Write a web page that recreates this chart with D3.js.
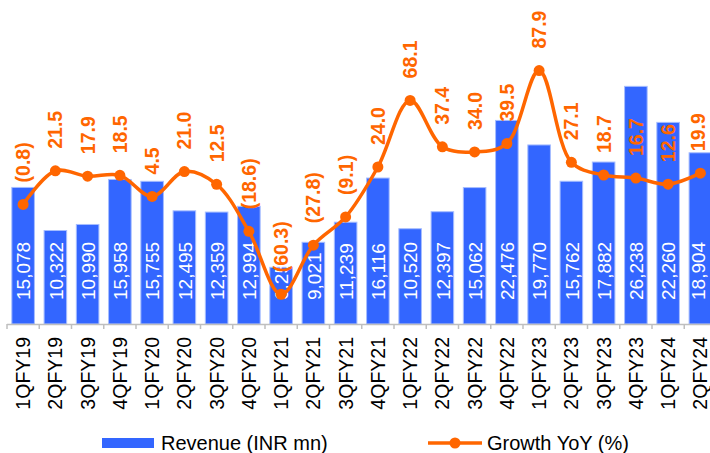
<!DOCTYPE html>
<html>
<head>
<meta charset="utf-8">
<script src="https://cdn.jsdelivr.net/npm/d3@7"></script>
<style>
    body { margin: 0; background: #fff; }
    svg { display: block; font-family: "Liberation Sans", Arial, sans-serif; }
</style>
</head>
<body>
<div id="chart"></div>
<script>
var quarters = ['1QFY19', '2QFY19', '3QFY19', '4QFY19', '1QFY20', '2QFY20', '3QFY20', '4QFY20',
    '1QFY21', '2QFY21', '3QFY21', '4QFY21', '1QFY22', '2QFY22', '3QFY22', '4QFY22',
    '1QFY23', '2QFY23', '3QFY23', '4QFY23', '1QFY24', '2QFY24'];
var revenue = [15078, 10322, 10990, 15958, 15755, 12495, 12359, 12994,
    6258, 9021, 11239, 16116, 10520, 12397, 15062, 22476,
    19770, 15762, 17882, 26238, 22260, 18904];
var growth = [-0.8, 21.5, 17.9, 18.5, 4.5, 21.0, 12.5, -18.6,
    -60.3, -27.8, -9.1, 24.0, 68.1, 37.4, 34.0, 39.5,
    87.9, 27.1, 18.7, 16.7, 12.6, 19.9];
var legendLabels = ['Revenue (INR mn)', 'Growth YoY (%)'];

var opts = {
    width: 710,
    height: 453,
    margins: { top: 7, right: 0, bottom: 129, left: 7 },
    barClr: '#3366ff',
    lineClr: '#ff6600'
};

function commaValue(x) {
    return x.toString().replace(/\B(?=(\d{3})+(?!\d))/g, ",");
}

function pct(v) {
    return v < 0 ? '(' + Math.abs(v).toFixed(1) + ')' : v.toFixed(1);
}

var rows = quarters.map(function(q, i) {
    return { q: q, rev: revenue[i], g: growth[i] };
});

var svg = d3.select('#chart').append('svg')
    .attr('width', opts.width)
    .attr('height', opts.height);

var bottomY = opts.height - opts.margins.bottom; // 324

// chart runs a little past the right edge, like the source
var x = d3.scaleBand()
    .domain(quarters)
    .range([opts.margins.left, opts.margins.left + 22 * 32.25])
    .paddingInner(0.3)
    .paddingOuter(0.15);

var yRev = d3.scaleLinear().domain([0, 35000]).range([bottomY, opts.margins.top]);
var yG = d3.scaleLinear().domain([-80, 130]).range([bottomY, opts.margins.top]);

function mid(q) {
    return x(q) + x.bandwidth() / 2;
}

// bars
svg.append('g').selectAll('rect')
    .data(rows)
    .enter().append('rect')
    .attr('x', function(d) { return x(d.q); })
    .attr('y', function(d) { return yRev(d.rev); })
    .attr('width', x.bandwidth())
    .attr('height', function(d) { return bottomY - yRev(d.rev); })
    .style('fill', opts.barClr)
    .style('stroke', '#a6bdff')
    .style('stroke-width', '1px');

// x axis, ticks sit between the bars
var axisG = svg.append('g').attr('class', 'x-axis');
axisG.append('line')
    .attr('x1', opts.margins.left).attr('x2', opts.width)
    .attr('y1', bottomY + 0.5).attr('y2', bottomY + 0.5)
    .style('stroke', '#bfbfbf').style('stroke-width', '1.5px');
axisG.selectAll('line.tk')
    .data(quarters)
    .enter().append('line')
    .attr('class', 'tk')
    .attr('x1', function(d) { return x(d) - x.step() * 0.15; })
    .attr('x2', function(d) { return x(d) - x.step() * 0.15; })
    .attr('y1', bottomY).attr('y2', bottomY + 5)
    .style('stroke', '#bfbfbf').style('stroke-width', '1.5px');
axisG.selectAll('text')
    .data(quarters)
    .enter().append('text')
    .attr('transform', function(d) {
        return 'translate(' + mid(d) + ',' + (bottomY + 13) + ') rotate(-90)';
    })
    .attr('dy', '0.36em')
    .attr('text-anchor', 'end')
    .attr('font-size', 19.5)
    .style('fill', '#000')
    .text(function(d) { return d; });

// revenue labels inside bars (last one nudged in so it is not cut)
svg.append('g').selectAll('text')
    .data(rows)
    .enter().append('text')
    .attr('transform', function(d) {
        return 'translate(' + Math.min(mid(d.q), opts.width - 12) + ',' + (bottomY - 24) + ') rotate(-90)';
    })
    .attr('dy', '0.38em')
    .attr('font-size', 19)
    .style('fill', '#fff')
    .text(function(d) { return commaValue(d.rev); });

// growth line
var line = d3.line()
    .x(function(d) { return mid(d.q); })
    .y(function(d) { return yG(d.g); })
    .curve(d3.curveCatmullRom.alpha(0.5));

svg.append('path')
    .datum(rows)
    .attr('d', line)
    .style('fill', 'none')
    .style('stroke', opts.lineClr)
    .style('stroke-width', '3.5px');

svg.append('g').selectAll('circle')
    .data(rows)
    .enter().append('circle')
    .attr('cx', function(d) { return mid(d.q); })
    .attr('cy', function(d) { return yG(d.g); })
    .attr('r', 5.5)
    .style('fill', opts.lineClr);

svg.append('g').selectAll('text')
    .data(rows)
    .enter().append('text')
    .attr('transform', function(d) {
        return 'translate(' + Math.min(mid(d.q), opts.width - 12) + ',' + (yG(d.g) - 22) + ') rotate(-90)';
    })
    .attr('dy', '0.36em')
    .attr('font-size', 19.5)
    .attr('font-weight', 'bold')
    .style('fill', opts.lineClr)
    .text(function(d) { return pct(d.g); });

// legend
var lg = svg.append('g').attr('class', 'legend');
lg.append('rect')
    .attr('x', 102).attr('y', 438)
    .attr('width', 52).attr('height', 10)
    .style('fill', opts.barClr);
lg.append('text')
    .attr('x', 161).attr('y', 450)
    .attr('font-size', 20)
    .text(legendLabels[0]);
lg.append('line')
    .attr('x1', 428).attr('x2', 482)
    .attr('y1', 443).attr('y2', 443)
    .style('stroke', opts.lineClr).style('stroke-width', '3.5px');
lg.append('circle')
    .attr('cx', 455).attr('cy', 443).attr('r', 5.5)
    .style('fill', opts.lineClr);
lg.append('text')
    .attr('x', 487).attr('y', 450)
    .attr('font-size', 20)
    .text(legendLabels[1]);
</script>
</body>
</html>
